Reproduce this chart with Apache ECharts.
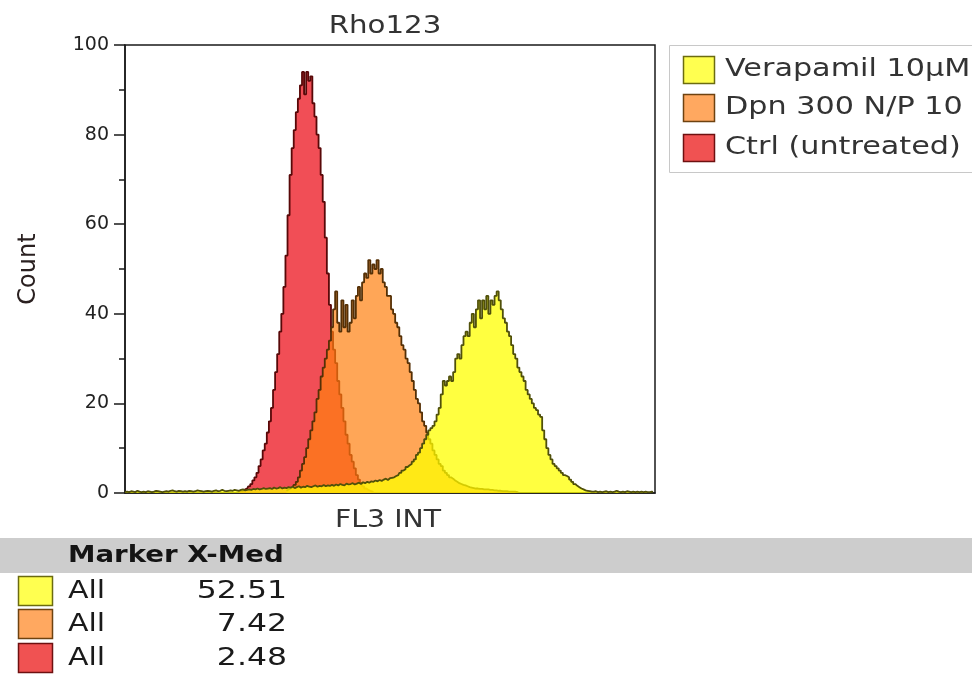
<!DOCTYPE html>
<html>
<head>
<meta charset="utf-8">
<title>Rho123</title>
<script src="https://cdn.jsdelivr.net/npm/echarts@6/dist/echarts.min.js"></script>
<style>
  html, body { margin: 0; padding: 0; background: #ffffff; }
  #chart { width: 972px; height: 675px; }
</style>
</head>
<body>
<div id="chart"></div>
<script>
// FL3 histogram overlay, 256 channels on the x axis, counts on the y axis.
const chartTitle = 'Rho123';
const xAxisName = 'FL3 INT';
const yAxisName = 'Count';
const seriesNames = ['Verapamil 10µM', 'Dpn 300 N/P 10', 'Ctrl (untreated)'];
const yTicks = [0, 20, 40, 60, 80, 100];
const channelCount = 256;

// Table under the plot: marker and median per sample.
const tableHeader = 'Marker X-Med';
const markerNames = ['All', 'All', 'All'];
const markerMedians = ['52.51', '7.42', '2.48'];

// Verapamil 10µM counts, channels 0..255
const verapamilStart = 0;
const verapamilCounts = [
  0.2, 0.3, 0.2, 0.4, 0.3, 0.2, 0.5, 0.3, 0.2, 0.3,
  0.2, 0.4, 0.3, 0.2, 0.3, 0.5, 0.4, 0.3, 0.2, 0.3,
  0.4, 0.3, 0.5, 0.6, 0.4, 0.3, 0.5, 0.4, 0.3, 0.4,
  0.3, 0.5, 0.4, 0.3, 0.4, 0.6, 0.5, 0.4, 0.3, 0.4,
  0.5, 0.4, 0.3, 0.5, 0.6, 0.4, 0.5, 0.7, 0.5, 0.4,
  0.5, 0.6, 0.5, 0.7, 0.6, 0.5, 0.7, 0.8, 0.6, 0.7,
  0.8, 0.7, 0.9, 0.8, 1.0, 0.8, 0.9, 1.1, 0.9, 1.0,
  1.1, 0.9, 1.2, 1.0, 1.1, 1.3, 1.0, 1.2, 1.1, 1.3,
  1.2, 1.4, 1.1, 1.3, 1.5, 1.2, 1.4, 1.3, 1.6, 1.4,
  1.3, 1.5, 1.7, 1.4, 1.6, 1.5, 1.8, 1.5, 1.7, 1.6,
  1.8, 1.6, 1.9, 1.7, 2.0, 1.8, 1.7, 2.1, 1.9, 2.0,
  2.2, 1.9, 2.1, 2.3, 2.0, 2.4, 2.2, 2.5, 2.3, 2.6,
  2.5, 2.8, 2.6, 2.9, 2.7, 3.0, 3.2, 2.9, 3.3, 3.4,
  3.5, 3.8, 4.0, 4.5, 5.0, 5.3, 5.8, 6.2, 6.5, 7.0,
  7.5, 8.5, 9.0, 10, 11, 12, 13, 14, 14.5, 15,
  16, 17.5, 19, 22, 25, 24, 25, 26, 25, 27,
  30, 31, 30, 33, 35, 36, 35, 38, 40, 37,
  41, 43, 39, 43, 41, 44, 40, 43, 42, 44,
  45, 43, 41, 39, 38, 36, 35, 33, 31, 30,
  28, 27, 26, 25, 23, 22, 21, 20, 19, 18.5,
  17.5, 17, 14, 12, 10, 8.5, 7.5, 6.5, 6, 5.5,
  5, 4.5, 4, 3.8, 3.5, 3, 2.5, 2, 1.6, 1.3,
  1, 0.8, 0.6, 0.5, 0.4, 0.3, 0.3, 0.4, 0.2, 0.3,
  0.2, 0.3, 0.4, 0.2, 0.3, 0.2, 0.3, 0.5, 0.3, 0.2,
  0.3, 0.2, 0.4, 0.3, 0.2, 0.3, 0.2, 0.3, 0.2, 0.3,
  0.2, 0.3, 0.2, 0.2, 0.3, 0.2
];

// Dpn 300 N/P 10 counts, starting at channel 78
const dpnStart = 78;
const dpnCounts = [
  0.5, 0.8, 1, 1.3, 1.8, 2.5, 3.5, 5, 6.5, 8,
  10, 12, 14, 16, 18, 21, 23, 26, 28, 30,
  32, 34, 37, 41, 45, 38, 36, 43, 37, 42,
  36, 38, 43, 39, 44, 46, 43, 47, 49, 48,
  52, 49, 51, 50, 52, 49, 50, 47, 46, 44,
  44, 41, 40, 38, 37, 35, 33, 32, 30, 29,
  27, 25, 23, 21, 20, 18, 16, 15, 13.5, 12,
  11, 9.5, 8.5, 7.5, 6.5, 6, 5, 4.5, 4, 3.5,
  3.2, 2.8, 2.5, 2.2, 2, 1.8, 1.7, 1.5, 1.3, 1.2,
  1.1, 1, 1, 0.9, 0.9, 0.8, 0.8, 0.8, 0.7, 0.7,
  0.6, 0.6, 0.5, 0.5, 0.4, 0.4, 0.4, 0.3, 0.3, 0.3,
  0.3, 0.2, 0.2
];

// Ctrl (untreated) counts, starting at channel 55
const ctrlStart = 55;
const ctrlCounts = [
  0.3, 0.5, 0.5, 0.8, 1.0, 1.5, 2.0, 2.8, 3.5, 4.5,
  6, 7.5, 9.5, 11, 13.5, 16, 19, 23, 27, 31,
  36, 40, 46, 53, 62, 71, 77, 81, 85, 88,
  91, 94, 89, 94, 92, 93, 87, 84, 80, 77,
  71, 65, 57, 49, 42, 36, 32, 29, 25, 22,
  19, 16, 13, 11, 8.5, 7, 5.5, 4, 3, 2.2,
  1.5, 1, 0.7, 0.5, 0.3, 0.2
];

// Fill (translucent so overlaps blend) and outline per sample, same order as seriesNames.
const fillColors = ['rgba(255,255,0,0.75)', 'rgba(255,128,16,0.7)', 'rgba(238,34,44,0.8)'];
const lineColors = ['#50500a', '#553006', '#580808'];
const swatchColors = ['#ffff50', '#ffa860', '#f05252'];
const swatchBorders = ['#6b6b10', '#6e4210', '#6e1010'];

const FONT = '"DejaVu Sans", Verdana, sans-serif';

function toPairs(start, counts) {
  return counts.map((v, i) => [start + i, v]);
}

const histograms = [
  { start: verapamilStart, counts: verapamilCounts },
  { start: dpnStart, counts: dpnCounts },
  { start: ctrlStart, counts: ctrlCounts }
];

// Draw Ctrl first, then Dpn, then Verapamil on top.
const series = [2, 1, 0].map((k, order) => ({
  name: seriesNames[k],
  type: 'line',
  step: 'middle',
  symbol: 'none',
  silent: true,
  animation: false,
  z: 2 + order,
  data: toPairs(histograms[k].start, histograms[k].counts),
  lineStyle: { color: lineColors[k], width: 1.8 },
  areaStyle: { color: fillColors[k], opacity: 1 }
}));

function stretchedText(x, y, text, stretch, opts) {
  return {
    type: 'text',
    x: x, y: y,
    scaleX: stretch,
    silent: true,
    style: Object.assign({
      text: text,
      fill: '#333333',
      font: '24px ' + FONT,
      align: 'left',
      verticalAlign: 'middle'
    }, opts || {})
  };
}

const graphics = [];

// Title and x axis name
graphics.push(stretchedText(385, 27, chartTitle, 1.22, { align: 'center' }));
graphics.push(stretchedText(388, 521, xAxisName, 1.18, { align: 'center' }));

// Legend box to the right of the plot
graphics.push({
  type: 'rect', silent: true,
  shape: { x: 669.5, y: 45.5, width: 320, height: 127 },
  style: { fill: '#ffffff', stroke: '#c8c8c8', lineWidth: 1 }
});
const legendRowY = [70, 108, 148];
seriesNames.forEach((name, i) => {
  graphics.push({
    type: 'rect', silent: true,
    shape: { x: 683.5, y: legendRowY[i] - 13.5, width: 31, height: 27 },
    style: { fill: swatchColors[i], stroke: swatchBorders[i], lineWidth: 1.5 }
  });
  graphics.push(stretchedText(725, legendRowY[i], name, 1.26));
});

// Statistics table
graphics.push({
  type: 'rect', silent: true,
  shape: { x: 0, y: 538, width: 972, height: 35 },
  style: { fill: '#cdcdcd' }
});
graphics.push(stretchedText(68, 556, tableHeader, 1.2, { font: 'bold 23px ' + FONT, fill: '#141414' }));
const tableRowY = [591, 624, 658];
markerNames.forEach((m, i) => {
  graphics.push({
    type: 'rect', silent: true,
    shape: { x: 18.5, y: tableRowY[i] - 14.5, width: 34, height: 29 },
    style: { fill: swatchColors[i], stroke: swatchBorders[i], lineWidth: 1.5 }
  });
  graphics.push(stretchedText(68, tableRowY[i], m, 1.2, { fill: '#1a1a1a', font: '25px ' + FONT }));
  graphics.push(stretchedText(287, tableRowY[i], markerMedians[i], 1.26, { fill: '#1a1a1a', align: 'right', font: '25px ' + FONT }));
});

const chart = echarts.init(document.getElementById('chart'), null, { renderer: 'canvas' });
chart.setOption({
  backgroundColor: '#ffffff',
  animation: false,
  grid: {
    left: 125, top: 45, right: 317, bottom: 182,
    show: true, borderColor: '#1a1a1a', borderWidth: 1.5, backgroundColor: 'transparent'
  },
  xAxis: {
    type: 'value',
    min: 0, max: channelCount,
    axisLine: { show: true, lineStyle: { color: '#1a1a1a', width: 1.5 } },
    axisTick: { show: false },
    axisLabel: { show: false },
    splitLine: { show: false }
  },
  yAxis: {
    type: 'value',
    min: yTicks[0], max: yTicks[yTicks.length - 1], interval: yTicks[1] - yTicks[0],
    name: yAxisName,
    nameLocation: 'middle',
    nameRotate: 90,
    nameGap: 84,
    nameTextStyle: { fontFamily: FONT, fontSize: 24, color: '#2a2020' },
    axisLine: { show: true, lineStyle: { color: '#1a1a1a', width: 1.5 } },
    axisTick: { show: true, length: 11, lineStyle: { color: '#1a1a1a', width: 1.5 } },
    minorTick: { show: true, splitNumber: 2, length: 6, lineStyle: { color: '#1a1a1a', width: 1.5 } },
    axisLabel: { fontFamily: FONT, fontSize: 19, color: '#222222', margin: 16 },
    splitLine: { show: false }
  },
  series: series,
  graphic: { elements: graphics }
});
</script>
</body>
</html>
